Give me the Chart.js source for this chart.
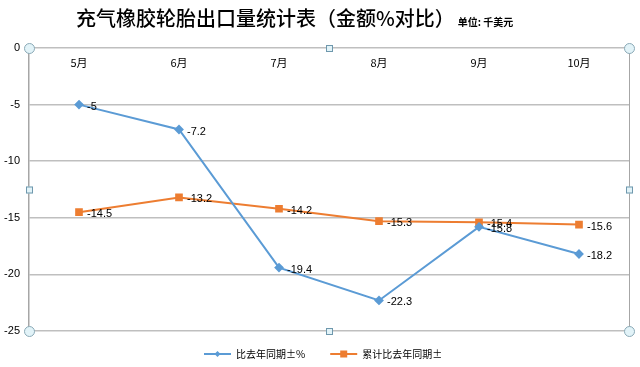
<!DOCTYPE html>
<html>
<head>
<meta charset="utf-8">
<script src="https://cdn.jsdelivr.net/npm/chart.js@4/dist/chart.umd.min.js"></script>
<style>
  html, body { margin: 0; padding: 0; background: #fff; }
  #wrap { width: 640px; height: 367px; }
</style>
</head>
<body>
<div id="wrap"><canvas id="tyreChart" width="640" height="367"></canvas></div>
<script>
// chart data
const months = ['5月', '6月', '7月', '8月', '9月', '10月'];
const yoyChange = [-5, -7.2, -19.4, -22.3, -15.8, -18.2];
const cumChange = [-14.5, -13.2, -14.2, -15.3, -15.4, -15.6];
const seriesNames = ['比去年同期±%', '累计比去年同期±'];
const yTicks = [0, -5, -10, -15, -20, -25];

const titleText = '充气橡胶轮胎出口量统计表（金额%对比）';
const unitText = '单位: 千美元';
const cjk = '"Noto Sans CJK SC", "Microsoft YaHei", sans-serif';

// title, category labels, value labels, legend and the selection frame
const extras = {
    id: 'extras',
    afterDatasetsDraw(chart) {
        const c = chart.ctx;
        const area = chart.chartArea;
        const x = chart.scales.x;
        c.save();

        // title
        c.fillStyle = '#000';
        c.textBaseline = 'middle';
        c.textAlign = 'left';
        c.font = '500 20px ' + cjk;
        c.fillText(titleText, 76, 18);
        const tw = c.measureText(titleText).width;
        c.font = 'bold 10px ' + cjk;
        c.fillText(unitText, 76 + tw + 3, 22);

        // month labels just under the zero line
        c.font = '11px ' + cjk;
        c.textAlign = 'center';
        months.forEach((m, i) => {
            c.fillText(m, x.getPixelForValue(i), area.top + 15);
        });

        // value labels
        c.font = '11px "Liberation Sans", Arial, sans-serif';
        c.textAlign = 'left';
        chart.data.datasets.forEach((ds, di) => {
            const meta = chart.getDatasetMeta(di);
            meta.data.forEach((pt, i) => {
                c.fillText(String(ds.data[i]), pt.x + 8, pt.y + 2);
            });
        });

        // right border of the plot frame
        c.strokeStyle = '#a6a6a6';
        c.lineWidth = 1;
        c.beginPath();
        c.moveTo(area.right + 0.5, area.top);
        c.lineTo(area.right + 0.5, area.bottom);
        c.stroke();

        // selection handles
        const midX = (area.left + area.right) / 2;
        const midY = (area.top + area.bottom) / 2;
        const circles = [[area.left, area.top], [area.right, area.top], [area.left, area.bottom], [area.right, area.bottom]];
        const squares = [[midX, area.top], [midX, area.bottom], [area.left, midY], [area.right, midY]];
        c.lineWidth = 1;
        circles.forEach(([hx, hy]) => {
            c.beginPath();
            c.arc(hx + 0.5, hy + 0.5, 5, 0, Math.PI * 2);
            c.fillStyle = '#e2f3f8';
            c.fill();
            c.strokeStyle = '#8aa9b6';
            c.stroke();
        });
        squares.forEach(([hx, hy]) => {
            c.fillStyle = '#e2f3f8';
            c.fillRect(hx - 3, hy - 3, 7, 7);
            c.strokeStyle = '#6f98ad';
            c.strokeRect(hx - 3 + 0.5, hy - 3 + 0.5, 6, 6);
        });

        // legend
        const ly = 354;
        let lx = 204;
        c.font = '10px ' + cjk;
        c.textBaseline = 'middle';
        chart.data.datasets.forEach((ds, di) => {
            c.strokeStyle = ds.borderColor;
            c.lineWidth = 2;
            c.beginPath();
            c.moveTo(lx, ly);
            c.lineTo(lx + 27, ly);
            c.stroke();
            c.fillStyle = ds.borderColor;
            const mx = lx + 13.5;
            if (di === 0) {
                c.beginPath();
                c.moveTo(mx, ly - 3);
                c.lineTo(mx + 3, ly);
                c.lineTo(mx, ly + 3);
                c.lineTo(mx - 3, ly);
                c.closePath();
                c.fill();
            } else {
                c.fillRect(mx - 3.5, ly - 3.5, 7, 7);
            }
            c.fillStyle = '#000';
            c.textAlign = 'left';
            c.fillText(ds.label, lx + 32, ly);
            lx += 32 + c.measureText(ds.label).width + 25;
        });

        c.restore();
    }
};

const ctx = document.getElementById('tyreChart').getContext('2d');
const tyreChart = new Chart(ctx, {
    type: 'line',
    data: {
        labels: months,
        datasets: [{
            label: seriesNames[0],
            data: yoyChange,
            borderColor: '#5b9bd5',
            backgroundColor: '#5b9bd5',
            borderWidth: 2,
            pointStyle: 'rectRot',
            pointRadius: 3.5,
            pointHoverRadius: 3.5,
            tension: 0
        }, {
            label: seriesNames[1],
            data: cumChange,
            borderColor: '#ed7d31',
            backgroundColor: '#ed7d31',
            borderWidth: 2,
            pointStyle: 'rect',
            pointRadius: 4,
            pointHoverRadius: 4,
            tension: 0
        }]
    },
    options: {
        responsive: false,
        animation: false,
        events: [],
        layout: { padding: { top: 48, right: 11, bottom: 36, left: 0 } },
        plugins: {
            legend: { display: false },
            tooltip: { enabled: false }
        },
        scales: {
            x: {
                display: false,
                offset: true
            },
            y: {
                min: -25,
                max: 0,
                afterBuildTicks: (s) => { s.ticks = yTicks.map(v => ({ value: v })); },
                afterFit: (s) => { s.width = 29; },
                ticks: {
                    color: '#000',
                    padding: 9,
                    font: { size: 11, family: '"Liberation Sans", Arial, sans-serif' }
                },
                grid: { color: '#bfbfbf', lineWidth: 1.5, drawTicks: false },
                border: { display: true, color: '#a6a6a6', width: 1.5 }
            }
        }
    },
    plugins: [extras]
});
</script>
</body>
</html>
